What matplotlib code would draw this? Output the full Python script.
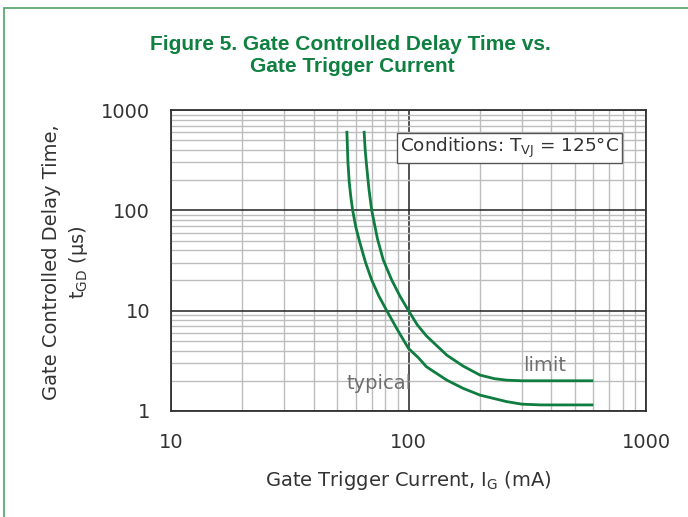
import matplotlib
matplotlib.use("Agg")
import matplotlib.pyplot as plt
from matplotlib.patches import Rectangle
from matplotlib.ticker import LogLocator, NullFormatter, FixedLocator, FixedFormatter

plt.rcParams['font.family'] = ['DejaVu Sans']
plt.rcParams['mathtext.fontset'] = 'dejavusans'

# Data
typ_i = [55, 55.6, 56.3, 57.2, 58.2, 60, 62.5, 66, 70, 75, 81, 90, 100, 110, 119, 145, 170, 200, 259, 300, 360, 600]
typ_t = [620, 300, 190, 135, 100, 68, 47, 30, 20.2, 14, 10, 6.4, 4.2, 3.4, 2.76, 2.03, 1.68, 1.44, 1.24, 1.17, 1.15, 1.15]
lim_i = [65, 65.7, 66.7, 68.2, 70, 74, 78.3, 85, 92, 100, 109, 119, 145, 170, 200, 230, 259, 300, 360, 600]
lim_t = [620, 400, 270, 160, 100, 52, 32, 20.2, 14, 10, 7.2, 5.6, 3.6, 2.8, 2.28, 2.1, 2.03, 2.0, 2.0, 2.0]

x_ticks = [10, 100, 1000]
x_labels = ["10", "100", "1000"]
y_ticks = [1, 10, 100, 1000]
y_labels = ["1", "10", "100", "1000"]

W, H = 688, 517
fig = plt.figure(figsize=(W / 100, H / 100), dpi=100)

# green frame
fig.patches.append(Rectangle((3.5 / W, -0.1), 1.2, 1 - 7.5 / H + 0.1, transform=fig.transFigure,
                             fill=False, edgecolor='#5aa874', linewidth=1.3))

ax = fig.add_axes([171 / W, 1 - 411 / H, (646 - 171) / W, (411 - 110) / H])
ax.set_xscale('log')
ax.set_yscale('log')
ax.set_xlim(10, 1000)
ax.set_ylim(1, 1000)

green = '#0f7c40'
ax.plot(typ_i, typ_t, color=green, lw=2.0, solid_capstyle='butt', zorder=3)
ax.plot(lim_i, lim_t, color=green, lw=2.0, solid_capstyle='butt', zorder=3)

ax.xaxis.set_major_locator(FixedLocator(x_ticks))
ax.xaxis.set_major_formatter(FixedFormatter(x_labels))
ax.yaxis.set_major_locator(FixedLocator(y_ticks))
ax.yaxis.set_major_formatter(FixedFormatter(y_labels))
ax.xaxis.set_minor_locator(LogLocator(base=10, subs=range(2, 10)))
ax.yaxis.set_minor_locator(LogLocator(base=10, subs=range(2, 10)))
ax.xaxis.set_minor_formatter(NullFormatter())
ax.yaxis.set_minor_formatter(NullFormatter())

ax.grid(which='major', color='#222222', lw=1.1, zorder=1)
ax.grid(which='minor', color='#bdbdbd', lw=1.0, zorder=0)
ax.tick_params(which='both', length=0)
ax.tick_params(axis='x', pad=16, labelsize=14, labelcolor='#333333')
ax.tick_params(axis='y', pad=15, labelsize=14, labelcolor='#333333')
for s in ax.spines.values():
    s.set_color('#333333')
    s.set_linewidth(1.3)

ax.text(75, 1.9, 'typical', color='#6e6e6e', fontsize=14, ha='center', va='center', zorder=4)
ax.text(376, 2.87, 'limit', color='#6e6e6e', fontsize=14, ha='center', va='center', zorder=4)

ax.text((400 - 171) / 475, 1 - (148 - 110) / 301, 'Conditions: T$_{\\mathrm{VJ}}$ = 125°C',
        transform=ax.transAxes,
        fontsize=13.2, color='#333333', ha='left', va='center', zorder=5,
        bbox=dict(boxstyle='square,pad=0.18', facecolor='white', edgecolor='#555555', lw=1.0))

ax.set_xlabel('Gate Trigger Current, I$_{\\mathrm{G}}$ (mA)', fontsize=14, color='#333333', labelpad=12)
fig.text(52 / W, 1 - 262 / H, 'Gate Controlled Delay Time,', rotation=90, fontsize=14,
         color='#333333', ha='center', va='center')
fig.text(78 / W, 1 - 262 / H, 't$_{\\mathrm{GD}}$ (µs)', rotation=90, fontsize=14,
         color='#333333', ha='center', va='center')

tfam = ['Liberation Sans Narrow', 'Liberation Sans']
fig.text(350 / W, 1 - 44 / H, 'Figure 5. Gate Controlled Delay Time vs.', fontsize=15,
         fontweight='bold', color='#0f8040', ha='center', va='center', family=tfam)
fig.text(352 / W, 1 - 67 / H, 'Gate Trigger Current', fontsize=15,
         fontweight='bold', color='#0f8040', ha='center', va='center', family=tfam)

fig.savefig('out.png', dpi=100)
